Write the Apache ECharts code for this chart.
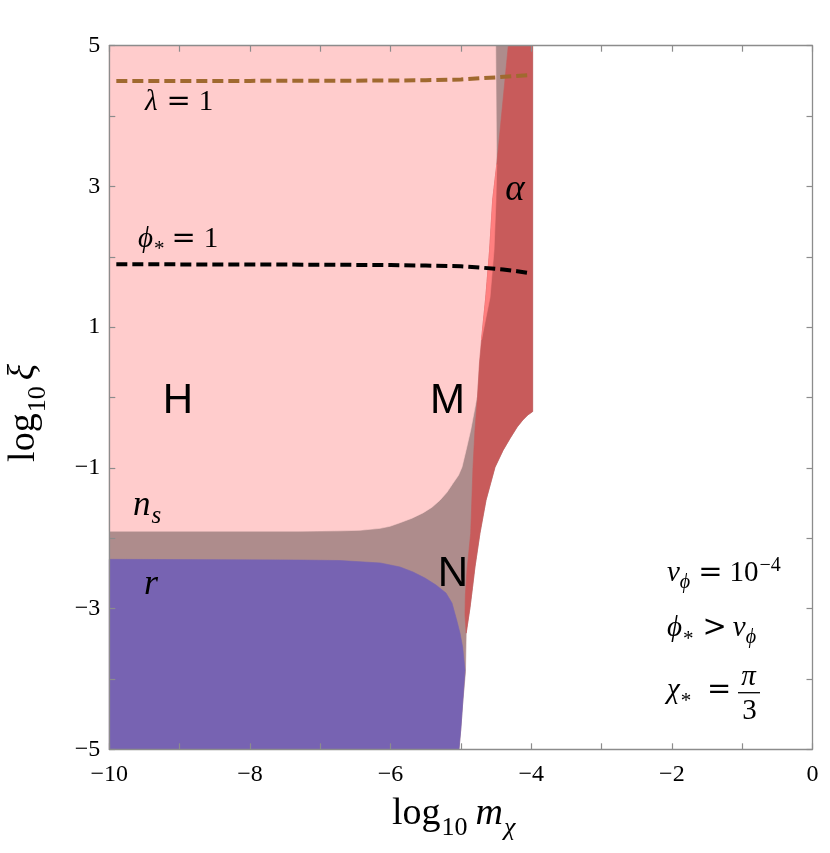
<!DOCTYPE html>
<html><head><meta charset="utf-8">
<script src="https://cdn.jsdelivr.net/npm/echarts@6/dist/echarts.min.js"></script>
<style>html,body{margin:0;padding:0;background:#fff}#c{width:830px;height:853px}</style>
</head><body><div id="c"></div>
<script>
// ---- tick labels ----
const xTickLabels = [-10, -8, -6, -4, -2, 0];
const yTickLabels = [-5, -3, -1, 1, 3, 5];

// ---- regions: [log10 m_chi, log10 xi] ----
// underlying (mauve) region, right edge = boundary of the white area
const nRegion = [
  [-10,-5],[-10,5],[-3.98,5],[-3.98,-0.2],[-4.05,-0.25],[-4.12,-0.32],[-4.2,-0.42],[-4.3,-0.58],
  [-4.4,-0.75],[-4.515,-0.99],[-4.643,-1.46],[-4.729,-1.93],[-4.80,-2.41],[-4.835,-2.70],
  [-4.871,-2.99],[-4.925,-3.35],[-4.935,-3.9],[-4.975,-4.35],[-5.0,-4.7],[-5.027,-5]
];
// H region (pink)
const hRegion = [
  [-10,5],[-4.505,5],[-4.494,3.52],[-4.501,2.81],[-4.529,2.09],[-4.586,1.42],[-4.70,0.82],
  [-4.736,0.49],[-4.771,0.01],[-4.86,-0.46],[-4.927,-0.75],[-4.985,-0.99],[-5.034,-1.105],
  [-5.113,-1.22],[-5.198,-1.347],[-5.298,-1.46],[-5.411,-1.56],[-5.539,-1.64],[-5.696,-1.716],
  [-5.866,-1.78],[-6.008,-1.83],[-6.15,-1.86],[-6.435,-1.887],[-6.72,-1.895],[-7.29,-1.90],[-10,-1.90]
];
// r region (blue)
const rRegion = [
  [-10,-5],[-10,-2.30],[-7.29,-2.31],[-6.72,-2.317],[-6.145,-2.352],[-5.866,-2.409],[-5.681,-2.48],
  [-5.511,-2.566],[-5.354,-2.665],[-5.212,-2.779],[-5.127,-2.921],[-5.06,-3.163],[-5.013,-3.348],
  [-4.975,-3.547],[-4.942,-3.874],[-4.975,-4.35],[-5.0,-4.7],[-5.027,-5]
];
// alpha region (red)
const alphaRegion = [
  [-4.326,5],[-3.98,5],[-3.98,-0.2],[-4.05,-0.25],[-4.12,-0.32],[-4.2,-0.42],[-4.3,-0.58],
  [-4.4,-0.75],[-4.515,-0.99],[-4.643,-1.46],[-4.729,-1.93],[-4.80,-2.41],[-4.835,-2.70],
  [-4.871,-2.99],[-4.925,-3.35],
  [-4.942,-3.09],[-4.937,-2.81],[-4.913,-2.45],[-4.861,-1.93],[-4.828,-0.99],[-4.800,-0.46],
  [-4.764,0.01],[-4.736,0.49],[-4.707,0.82],[-4.647,1.42],[-4.592,2.09],[-4.548,2.81],[-4.49,3.31]
];
// alpha overlapping H (bright red strip)
const overlapRegion = [
  [-4.49,3.31],[-4.501,2.81],[-4.529,2.09],[-4.586,1.42],[-4.707,0.82],
  [-4.647,1.42],[-4.592,2.09],[-4.548,2.81]
];
// contour lines
const lambdaLine = [[-9.9,4.5],[-9,4.5],[-8,4.5],[-7,4.502],[-6,4.505],[-5.5,4.51],[-5,4.52],[-4.5,4.55],[-4,4.585]];
const phiLine = [[-9.9,1.893],[-9,1.892],[-8,1.89],[-7,1.888],[-6.5,1.885],[-6,1.882],[-5.5,1.875],[-5,1.865],[-4.7,1.845],[-4.4,1.82],[-4.2,1.795],[-4,1.765]];

const SERIF = "'Liberation Serif','DejaVu Serif',serif";
const DVS = "'DejaVu Serif','Liberation Serif',serif";
const SANS = "'Liberation Sans','DejaVu Sans',sans-serif";
const AX = '#8c8c8c';

function polySeries(name, pts, color, z) {
  return {
    type: 'custom', name, coordinateSystem: 'cartesian2d', silent: true, z,
    data: [pts[0]],
    renderItem: (params, api) => ({
      type: 'polygon',
      shape: { points: pts.map(p => api.coord(p)) },
      style: { fill: color, stroke: color, lineWidth: 0.6 }
    })
  };
}
function lineSeries(name, pts, color) {
  return {
    type: 'line', name, data: pts, symbol: 'none', silent: true, z: 9, smooth: false,
    lineStyle: { color, width: 4, type: [11, 5], cap: 'butt' }
  };
}
function fontStr(size, o) { return (o.it ? 'italic ' : '') + size + 'px ' + (o.fam || (o.sans ? SANS : SERIF)); }
function tx(text, x, base, size, o) {
  o = o || {};
  return { type: 'text', x, y: base - 0.335 * size, z: 100, silent: true,
    style: { text, font: fontStr(size, o), fill: '#000',
      textAlign: o.align || 'center', textVerticalAlign: 'middle' } };
}
const mctx = document.createElement('canvas').getContext('2d');
function w(text, size, o) { mctx.font = fontStr(size, o || {}); return mctx.measureText(text).width; }
// lay out pieces left to right: [text, size, {it, dy, gap, fam}]
function run(x0, base, parts) {
  const out = []; let x = x0;
  parts.forEach(p => {
    const o = Object.assign({}, p[2] || {});
    x += o.gap || 0;
    o.align = 'left';
    out.push(tx(p[0], x, base + (o.dy || 0), p[1], o));
    x += w(p[0], p[1], o);
  });
  out.width = x - x0;
  return out;
}

// axis titles
const xTitle = run(392, 827, [['log',38],['10',26,{dy:10,gap:1}],['m',38,{it:true,gap:8}],['χ',26,{it:true,dy:10,gap:1}]]);
const yParts = [['log',38],['10',26,{dy:10,gap:1}],['ξ',38,{it:true,gap:6}]];
const yW = run(0, 0, yParts).width;
const yTitle = run(0, 0, yParts);

const graphics = [
  ...xTitle,
  { type: 'group', x: 37, y: 413 + yW / 2, rotation: Math.PI / 2, children: yTitle },
  // region labels
  tx('H', 178, 415, 42, {sans:true}),
  tx('M', 447.5, 415, 42, {sans:true}),
  tx('N', 453, 588, 42, {sans:true}),
  tx('α', 515, 203, 37, {it:true}),
  ...run(133, 518, [['n',35,{it:true}],['s',25,{it:true,dy:7,gap:1}]]),
  tx('r', 151, 597, 36, {it:true}),
  // lambda = 1
  ...run(145, 112, [['λ',29,{it:true}],['=',29,{fam:DVS,gap:9}],['1',29,{gap:8}]]),
  // phi_* = 1
  ...run(138, 249, [['ϕ',29,{it:true}],['*',21,{dy:8,gap:1}],['=',29,{fam:DVS,gap:7}],['1',29,{gap:8}]]),
  // v_phi = 10^-4
  ...run(667, 583, [['v',29,{it:true}],['ϕ',20,{it:true,dy:6}],['=',29,{fam:DVS,gap:8}],['10',29,{gap:7}],['\u22124',20,{dy:-11,gap:1}]]),
  // phi_* > v_phi
  ...run(667, 638, [['ϕ',29,{it:true}],['*',21,{dy:9,gap:1}],['>',29,{fam:DVS,gap:9}],['v',29,{it:true,gap:6}],['ϕ',20,{it:true,dy:6}]]),
  // chi_* = pi/3
  ...run(667, 700, [['χ',29,{it:true}],['*',21,{dy:9,gap:1}]]),
  tx('=', 707, 700, 29, {fam:DVS, align:'left'}),
  tx('π', 748.5, 687, 29, {it:true}),
  { type: 'line', z: 100, silent: true, shape: { x1: 738, y1: 692.7, x2: 760, y2: 692.7 }, style: { stroke: '#000', lineWidth: 1.3 } },
  tx('3', 749.5, 721, 29)
];

function fmtNum(v) { return v < 0 ? '\u2212' + Math.abs(v) : String(v); }
const axisCommon = {
  type: 'value', z: 20,
  axisLine: { show: true, onZero: false, lineStyle: { color: AX, width: 1.3 } },
  axisTick: { show: true, inside: true, length: 6, lineStyle: { color: AX, width: 1.2 } },
  splitLine: { show: false }, minorTick: { show: false }
};
const option = {
  animation: false,
  backgroundColor: '#fff',
  grid: { left: 109.3, right: 17.5, top: 45.7, bottom: 103.7, containLabel: false },
  xAxis: [
    Object.assign({}, axisCommon, { min: -10, max: 0, interval: 1, position: 'bottom',
      axisLabel: { show: true, margin: 13, fontSize: 24, fontFamily: SERIF, color: '#000',
        showMinLabel: true, showMaxLabel: true,
        formatter: v => xTickLabels.includes(v) ? fmtNum(v) : '' } }),
    Object.assign({}, axisCommon, { min: -10, max: 0, interval: 1, position: 'top', axisLabel: { show: false } })
  ],
  yAxis: [
    Object.assign({}, axisCommon, { min: -5, max: 5, interval: 1, position: 'left',
      axisLabel: { show: true, margin: 9, fontSize: 24, fontFamily: SERIF, color: '#000',
        showMinLabel: true, showMaxLabel: true,
        formatter: v => yTickLabels.includes(v) ? fmtNum(v) : '' } }),
    Object.assign({}, axisCommon, { min: -5, max: 5, interval: 1, position: 'right', axisLabel: { show: false } })
  ],
  series: [
    polySeries('N', nRegion, '#ae8c8c', 2),
    polySeries('H', hRegion, '#ffcccc', 3),
    polySeries('r', rRegion, '#7763b2', 4),
    polySeries('alpha', alphaRegion, '#c85b5b', 5),
    polySeries('alpha over H', overlapRegion, '#ff7f7f', 6),
    lineSeries('lambda = 1', lambdaLine, '#a0692f'),
    lineSeries('phi_* = 1', phiLine, '#000000')
  ],
  graphic: graphics
};
const chart = echarts.init(document.getElementById('c'), null, { renderer: 'canvas' });
chart.setOption(option);
</script></body></html>
